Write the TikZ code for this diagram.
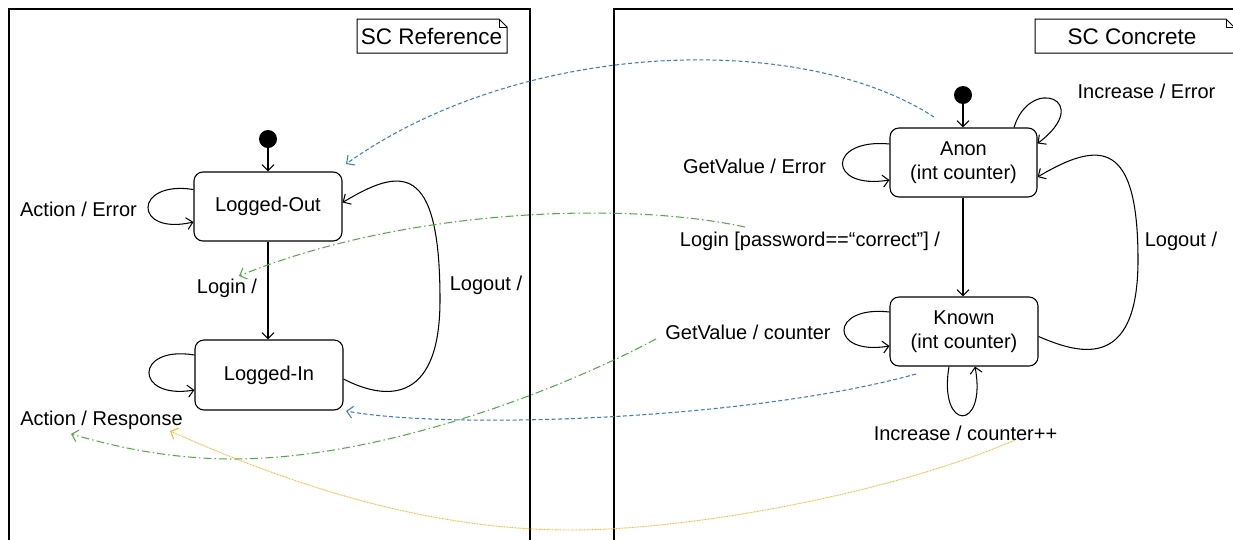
\documentclass[tikz,border=0pt]{standalone}
\usepackage{fontspec}
\setmainfont{Liberation Sans}
\usetikzlibrary{arrows.meta,calc}
\definecolor{lnkblue}{HTML}{3D7CC4}
\definecolor{lnkgreen}{HTML}{55AA48}
\definecolor{lnkyellow}{HTML}{FBB634}
\begin{document}
\begin{tikzpicture}[x=1pt,y=-1pt,
  font=\fontsize{20}{24.5}\selectfont,
  state/.style={draw,line width=1.1pt,rounded corners=9pt,minimum width=148pt,minimum height=69pt,inner sep=0pt,align=center},
  lbl/.style={inner sep=0pt,anchor=center},
  trans/.style={line width=1.05pt,-{Straight Barb[length=6pt,width=12pt,line width=1.05pt]}},
  frame/.style={draw,line width=1.1pt},
  notebox/.style={line width=1pt},
  lnk/.style={line width=1.05pt,-{Straight Barb[length=6pt,width=12pt,line width=1.05pt]}},
  bluelnk/.style={lnk,draw=lnkblue,dash pattern=on 4pt off 2.5pt},
  greenlnk/.style={lnk,draw=lnkgreen,dash pattern=on 8pt off 3pt on 1.5pt off 3pt},
  yellowlnk/.style={lnk,draw=lnkyellow,line width=0.9pt,dash pattern=on 0.9pt off 0.7pt},
  initdot/.style={circle,fill=black,minimum size=18pt,inner sep=0pt}
]
\useasboundingbox (0,0) rectangle (1233,539);
\fill[white] (0,0) rectangle (1233,539);

% frames
\draw[frame] (9,545) -- (9,9) -- (530,9) -- (530,545);
\draw[frame] (614,545) -- (614,9) -- (1240,9);

% note boxes
\draw[notebox] (357,19) -- (499,19) -- (507,27) -- (507,53) -- (357,53) -- cycle;
\draw[notebox] (499,19) -- (499,27) -- (507,27);
\node[lbl,font=\fontsize{22.5}{27}\selectfont] (scref) at (431.5,36.5) {SC Reference};
\draw[notebox] (1035,19) -- (1226,19) -- (1234,27) -- (1234,53) -- (1035,53) -- cycle;
\draw[notebox] (1226,19) -- (1226,27) -- (1234,27);
\node[lbl,font=\fontsize{22.5}{27}\selectfont] (sccon) at (1132,36.5) {SC Concrete};

% left states
\node[initdot] (i1) at (268,139) {};
\node[state] (lo) at (268,206.5) {Logged-Out};
\node[state,minimum height=70pt] (lin) at (269,375) {Logged-In};
\draw[trans] (i1) -- (lo.north -| i1);
\draw[trans] (lo.south -| i1) -- (lin.north -| i1);

\draw[trans] ([shift={(0,-17)}]lo.west) .. controls (133,180) and (133,236) .. ([shift={(0,15.5)}]lo.west);
\draw[trans] ([shift={(0,-20)}]lin.west) .. controls (134,345) and (134,400) .. ([shift={(0,15)}]lin.west);
\draw[trans] ([shift={(0,4)}]lin.east) .. controls (380,398) and (440,410) .. (440,300)
   .. controls (440,160) and (400,168) .. ([shift={(0,-4)}]lo.east);

\node[lbl] (l_acterr) at (78.5,209) {Action / Error};
\node[lbl] (l_actresp) at (101.5,420) {Action / Response};
\node[lbl] (l_login) at (227,288) {Login /};
\node[lbl] (l_logout) at (486,285) {Logout /};

% right states
\node[initdot] (i2) at (963,95) {};
\node[state,minimum width=147pt] (anon) at (963.5,162.5) {Anon\\(int counter)};
\node[state] (known) at (964,331.5) {Known\\(int counter)};
\draw[trans] (i2) -- (anon.north -| i2);
\draw[trans] (anon.south -| i2) -- (known.north -| i2);

\draw[trans] ([shift={(0,-18.5)}]anon.west) .. controls (827,138) and (827,190) .. ([shift={(0,17.5)}]anon.west);
\draw[trans] ([shift={(0,-19.5)}]known.west) .. controls (829,305) and (829,356) .. ([shift={(0,14.5)}]known.west);
\draw[trans] ([shift={(-15,0)}]known.south) .. controls (938,432) and (987,432) .. ([shift={(11,0)}]known.south);
\draw[trans] ([shift={(50.5,0)}]anon.north) .. controls (1030,75) and (1095,100) .. ([shift={(0,16)}]anon.north east);
\draw[trans] ([shift={(0,5)}]known.east) .. controls (1075,352) and (1138,375) .. (1138,260)
   .. controls (1138,140) and (1100,140) .. ([shift={(0,14.5)}]anon.east);

\node[lbl] (l_gverr) at (754.5,166) {GetValue / Error};
\node[lbl] (l_incerr) at (1146.5,91) {Increase / Error};
\node[lbl] (l_loginpw) at (810,241) {Login [password==“correct”] /};
\node[lbl] (l_logout2) at (1181,241) {Logout /};
\node[lbl] (l_gvcnt) at (748,332) {GetValue / counter};
\node[lbl] (l_inccnt) at (965.5,433) {Increase / counter++};

% cross links
\coordinate (b1s) at (934,117);
\coordinate (b1e) at (346,164);
\draw[bluelnk] (b1s) .. controls (800,30) and (520,40) .. (b1e);
\coordinate (b2s) at (916,374);
\coordinate (b2e) at (346,411);
\draw[bluelnk] (b2s) .. controls (750,420) and (450,430) .. (b2e);
\coordinate (g1s) at (745,227);
\coordinate (g1e) at (239,276);
\draw[greenlnk] (g1s) .. controls (620,200) and (400,210) .. (g1e);
\coordinate (g2s) at (656,339);
\coordinate (g2e) at (71,434);
\draw[greenlnk] (g2s) .. controls (560,390) and (380,460) .. (229,459) .. controls (160,458) and (110,445) .. (g2e);
\coordinate (y1s) at (1015,440);
\coordinate (y1e) at (170,431);
\draw[yellowlnk] (y1s) .. controls (900,490) and (700,530) .. (570,530) .. controls (420,530) and (280,480) .. (y1e);
\end{tikzpicture}
\end{document}
